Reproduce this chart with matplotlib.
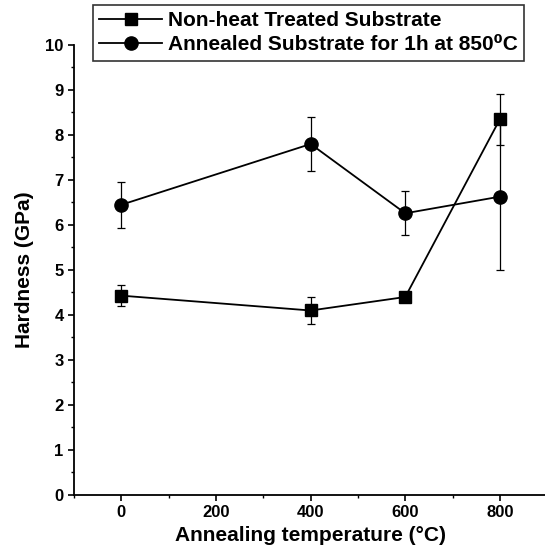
import matplotlib
matplotlib.use("Agg")
import matplotlib.pyplot as plt
from matplotlib.lines import Line2D
from matplotlib.ticker import MultipleLocator

# data
temps = [0, 400, 600, 800]
nonheat = [4.43, 4.10, 4.40, 8.35]
nonheat_err = [0.23, 0.29, 0.05, 0.57]
annealed = [6.45, 7.80, 6.26, 6.63]
annealed_err = [0.51, 0.60, 0.49, 1.63]

labels = ["Non-heat Treated Substrate", "Annealed Substrate for 1h at 850⁰C"]

plt.rcParams.update({
    "font.family": ["Liberation Sans", "DejaVu Sans"],
    "font.weight": "bold",
    "axes.linewidth": 1.3,
    "xtick.direction": "out",
    "ytick.direction": "out",
    "xtick.major.size": 4,
    "ytick.major.size": 4,
    "xtick.minor.size": 2.5,
    "ytick.minor.size": 2.5,
    "xtick.major.width": 1.2,
    "ytick.major.width": 1.2,
    "xtick.minor.width": 1.0,
    "ytick.minor.width": 1.0,
})

fig = plt.figure(figsize=(5.45, 5.59), dpi=100)
ax = fig.add_axes([0.136, 0.1145, 0.868, 0.805])

ax.errorbar(temps, nonheat, yerr=nonheat_err, color="black", marker="s",
            markersize=8.5, linewidth=1.3, elinewidth=0.9, capsize=3,
            capthick=0.9)
ax.errorbar(temps, annealed, yerr=annealed_err, color="black", marker="o",
            markersize=9.5, linewidth=1.3, elinewidth=0.9, capsize=3,
            capthick=0.9)

ax.set_xlim(-100, 900)
ax.set_ylim(0, 10)
ax.xaxis.set_major_locator(MultipleLocator(200))
ax.xaxis.set_minor_locator(MultipleLocator(100))
ax.yaxis.set_major_locator(MultipleLocator(1))
ax.yaxis.set_minor_locator(MultipleLocator(0.5))
ax.spines["top"].set_visible(False)
ax.spines["right"].set_visible(False)
ax.tick_params(labelsize=12)
for lab in ax.get_xticklabels() + ax.get_yticklabels():
    lab.set_fontweight("bold")

ax.set_xlabel("Annealing temperature (°C)", fontsize=15, fontweight="bold", labelpad=4)
ax.set_ylabel("Hardness (GPa)", fontsize=15, fontweight="bold", labelpad=8)

# legend handles: plain line + marker, no error caps
handles = [
    Line2D([], [], color="black", marker="s", markersize=8.5, linewidth=1.3),
    Line2D([], [], color="black", marker="o", markersize=9.5, linewidth=1.3),
]
leg = fig.legend(handles, labels, loc="upper left", bbox_to_anchor=(0.171, 0.991),
                 fontsize=15, frameon=True, fancybox=False, edgecolor="black",
                 handlelength=3.0, handletextpad=0.3, borderpad=0.3,
                 labelspacing=0.25, borderaxespad=0)
leg.get_frame().set_linewidth(1.2)
for t in leg.get_texts():
    t.set_fontweight("bold")

fig.savefig("out.png", dpi=100)
